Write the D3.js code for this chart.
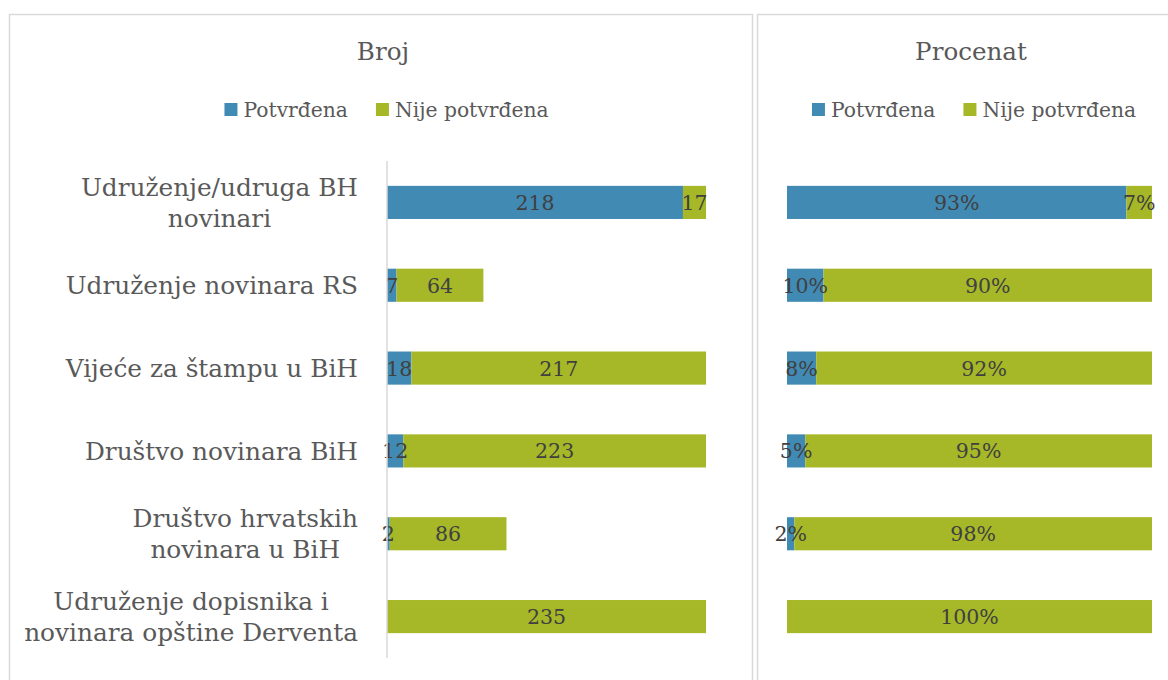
<!DOCTYPE html>
<html>
<head>
<meta charset="utf-8">
<script src="https://cdn.jsdelivr.net/npm/d3@7"></script>
<style>
  body { margin: 0; background: #fff; }
  svg { display: block; font-family: "DejaVu Serif", serif; }
</style>
</head>
<body>
<svg id="chart" width="1168" height="680"></svg>
<script>
const categories = [
  "Udruženje/udruga BH|novinari",
  "Udruženje novinara RS",
  "Vijeće za štampu u BiH",
  "Društvo novinara BiH",
  "Društvo hrvatskih|novinara u BiH",
  "Udruženje dopisnika i|novinara opštine Derventa"
];
const seriesNames = ["Potvrđena", "Nije potvrđena"];
const confirmedCount = [218, 7, 18, 12, 2, 0];
const notConfirmedCount = [17, 64, 217, 223, 86, 235];
const confirmedPct = [93, 10, 8, 5, 2, 0];
const notConfirmedPct = [7, 90, 92, 95, 98, 100];

const colors = ["#418ab4", "#a6b828"];
const textColor = "#595959";
const labelColor = "#404040";

const svg = d3.select("#chart");

/* Panel frames */
svg.append("rect").attr("x", 9.5).attr("y", 14.5).attr("width", 743).attr("height", 700)
  .attr("fill", "none").attr("stroke", "#d9d9d9").attr("stroke-width", 1.5);
svg.append("rect").attr("x", 757.5).attr("y", 14.5).attr("width", 430).attr("height", 700)
  .attr("fill", "none").attr("stroke", "#d9d9d9").attr("stroke-width", 1.5);

/* Shared band scale */
const yScale = d3.scaleBand()
  .domain(categories)
  .range([161, 658])
  .paddingInner(0.6)
  .paddingOuter(0.3);

const drawLegend = (cx) => {
  const g = svg.append("g");
  const items = g.selectAll("g").data(seriesNames).enter().append("g");
  items.append("rect").attr("width", 13).attr("height", 13).attr("y", 103)
    .attr("fill", (d, i) => colors[i]);
  items.append("text").attr("y", 116.5).attr("font-size", 20.3).attr("fill", textColor)
    .text((d) => d);
  let x = 0;
  const starts = [];
  items.each(function (d, i) {
    const w = d3.select(this).select("text").node().getComputedTextLength();
    starts.push(x);
    x += 13 + 6 + w + (i < seriesNames.length - 1 ? 28 : 0);
  });
  const left = cx - x / 2;
  items.each(function (d, i) {
    const it = d3.select(this);
    it.select("rect").attr("x", left + starts[i]);
    it.select("text").attr("x", left + starts[i] + 19);
  });
};

const drawPanel = (title, cx, legendCx, xRange, xMax, vals1, vals2, fmt, withAxis) => {
  svg.append("text").attr("x", cx).attr("y", 60).attr("text-anchor", "middle")
    .attr("font-size", 24.6).attr("fill", textColor).text(title);
  drawLegend(legendCx);

  const xScale = d3.scaleLinear().domain([0, xMax]).range(xRange);

  const segs = [];
  categories.forEach((c, i) => {
    segs.push({ cat: c, s: 0, x0: 0, x1: vals1[i], v: vals1[i] });
    segs.push({ cat: c, s: 1, x0: vals1[i], x1: vals1[i] + vals2[i], v: vals2[i] });
  });

  svg.append("g").selectAll("rect").data(segs).enter().append("rect")
    .attr("x", (d) => xScale(d.x0))
    .attr("y", (d) => yScale(d.cat))
    .attr("width", (d) => xScale(d.x1) - xScale(d.x0))
    .attr("height", yScale.bandwidth())
    .attr("fill", (d) => colors[d.s]);

  /* labels on top of all bars */
  svg.append("g").selectAll("text").data(segs.filter((d) => d.v > 0)).enter().append("text")
    .attr("x", (d) => (xScale(d.x0) + xScale(d.x1)) / 2)
    .attr("y", (d) => yScale(d.cat) + yScale.bandwidth() / 2 + 7.5)
    .attr("text-anchor", "middle")
    .attr("font-size", 20.5)
    .attr("fill", labelColor)
    .text((d) => fmt(d.v));

  if (withAxis) {
    svg.append("line").attr("x1", xRange[0]).attr("x2", xRange[0])
      .attr("y1", 161).attr("y2", 658)
      .attr("stroke", "#d9d9d9").attr("stroke-width", 1.5);
  }
};

drawPanel("Broj", 383, 386.5, [387, 726.4], 250, confirmedCount, notConfirmedCount, (v) => v, true);
drawPanel("Procenat", 971, 974, [787, 1152], 100, confirmedPct, notConfirmedPct, (v) => v + "%", false);

/* Category labels */
const catG = svg.append("g").selectAll("g").data(categories).enter().append("g");
catG.each(function (c) {
  const g = d3.select(this);
  const lines = c.split("|");
  const center = yScale(c) + yScale.bandwidth() / 2;
  const lineH = 31;
  const texts = lines.map((l, i) => g.append("text")
    .attr("y", center + (i - (lines.length - 1) / 2) * lineH + 9)
    .attr("text-anchor", "middle")
    .attr("font-size", 24.8)
    .attr("fill", textColor)
    .text(l));
  const maxW = d3.max(texts, (t) => t.node().getComputedTextLength());
  texts.forEach((t) => t.attr("x", 358 - maxW / 2));
});
</script>
</body>
</html>
